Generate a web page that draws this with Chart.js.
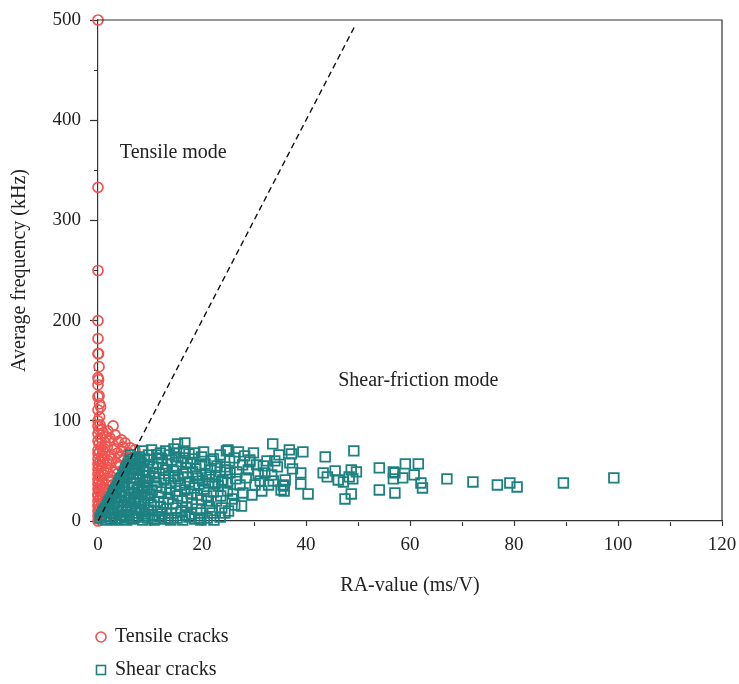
<!DOCTYPE html>
<html>
<head>
<meta charset="utf-8">
<script src="https://cdn.jsdelivr.net/npm/chart.js@4.4.0/dist/chart.umd.min.js"></script>
<style>
  html, body { margin: 0; padding: 0; background: #fff; }
</style>
</head>
<body>
<canvas id="raChart" width="739" height="684"></canvas>
<script>
// RA-value (ms/V) vs average frequency (kHz)
const tensileCracks = [
  [0, 500], [0, 333], [0, 250], [0, 200], [0, 182], [0.1, 167], [0, 167], [0.2, 154],
  [0, 143], [0.1, 141], [0, 136], [0.2, 125], [0, 124], [0.3, 117], [0.5, 114], [0, 111],
  [0.3, 104], [0, 100], [0.4, 96], [0, 95], [0.2, 91], [0, 87], [0.5, 83], [0, 80],
  [0.2, 77], [0.6, 74], [0, 71], [0.3, 69], [0, 67], [0.8, 65], [0, 62], [0.4, 60],
  [0, 57], [0.2, 55], [0, 52], [0.6, 50], [0, 47], [0.3, 45], [0, 42], [0.1, 40],
  [0, 37], [0.5, 35], [0, 32], [0.2, 30], [0, 27], [0, 25], [0.4, 22], [0, 20],
  [0.1, 17], [0, 15], [0.3, 12], [0, 10], [0.2, 7], [0, 5], [0.1, 2], [0, 0],
  [2.9, 95], [1.0, 88], [1.5, 84], [2.3, 80], [3.9, 79], [5.2, 78], [6.2, 73], [7.1, 71],
  [5.8, 68], [4.5, 70], [3.2, 72], [1.8, 74], [0.9, 70], [2.5, 66], [4.0, 64], [5.0, 62],
  [1.2, 62], [3.5, 58], [2.2, 57], [0.7, 55], [4.3, 55], [1.6, 52], [3.0, 50], [2.6, 44],
  [1.1, 46], [3.7, 47], [2.0, 40], [0.8, 38], [2.8, 36], [1.4, 33], [2.2, 28], [0.6, 27],
  [1.6, 22], [1.0, 18], [0.5, 14], [1.2, 12], [0.7, 8], [0.4, 4], [6.5, 66], [4.8, 74],
  [1.9, 90], [3.3, 86], [0.6, 92], [1.4, 78], [2.7, 62], [3.8, 68], [1.9, 48], [0.5, 44],
  [1.7, 36], [0.9, 31], [4.5, 81], [2.3, 83], [1.3, 68], [2.0, 60], [1.0, 25], [1.8, 30]
];

const shearCracks = [
  [0.4, 3], [0.7, 6], [1.0, 9], [1.2, 11], [1.5, 13], [1.8, 16], [2.0, 19], [2.3, 21],
  [2.6, 24], [2.9, 27], [3.1, 30], [3.4, 32], [3.7, 35], [4.0, 38], [4.2, 41], [4.5, 43],
  [4.8, 46], [5.1, 49], [5.3, 52], [5.6, 55], [5.9, 57], [6.2, 60], [6.7, 62], [7.3, 63],
  [8.0, 64], [1.3, 5], [2.0, 8], [2.6, 13], [3.2, 18], [3.6, 24], [4.1, 29], [4.6, 34],
  [5.0, 39], [5.5, 44], [6.0, 48], [6.5, 53], [7.0, 57], [7.6, 60],
  [1.5, 1], [2.5, 2], [3.5, 1], [4.6, 3], [5.5, 1], [6.6, 2], [7.7, 4], [8.6, 1],
  [9.6, 3], [10.8, 1], [11.8, 4], [12.9, 2], [14.0, 1], [15.2, 3], [16.3, 1], [17.5, 4],
  [18.6, 2], [19.8, 1], [21.0, 3], [22.3, 1],
  [3.0, 7], [4.0, 10], [4.8, 15], [5.6, 9], [6.3, 14], [7.1, 8], [8.0, 12], [8.9, 7],
  [9.7, 11], [5.8, 21], [6.9, 19], [7.8, 24], [8.8, 18], [9.6, 23], [6.4, 28], [7.5, 31],
  [8.5, 29], [9.4, 34], [7.0, 38], [8.1, 41], [9.1, 39], [9.8, 45], [7.7, 47], [8.7, 51],
  [9.5, 55], [8.3, 58], [9.9, 61], [6.0, 33], [6.8, 43], [10.2, 16], [10.0, 27], [9.2, 49],
  [10.5, 6], [11.4, 10], [12.3, 7], [13.2, 12], [14.1, 8], [15.0, 13], [16.0, 9], [17.0, 14],
  [18.0, 7], [19.0, 12], [19.8, 8], [10.8, 19], [11.7, 24], [12.6, 18], [13.5, 22], [14.4, 17],
  [15.3, 25], [16.2, 20], [17.1, 23], [18.1, 18], [19.1, 26], [19.9, 21], [10.4, 31], [11.3, 35],
  [12.2, 29], [13.1, 33], [14.0, 38], [14.9, 30], [15.8, 36], [16.7, 31], [17.6, 39], [18.5, 33],
  [19.4, 37], [10.9, 43], [11.8, 47], [12.7, 41], [13.6, 45], [14.5, 50], [15.4, 42], [16.3, 47],
  [17.2, 44], [18.2, 49], [19.2, 43], [10.6, 54], [11.5, 58], [12.4, 53], [13.3, 57], [14.2, 61],
  [15.1, 55], [16.0, 59], [16.9, 53], [17.8, 57], [18.8, 52], [19.6, 56], [11.6, 63], [12.2, 62],
  [13.7, 66], [15.1, 68], [16.4, 63], [17.2, 58], [18.3, 62], [15.3, 77], [16.7, 78], [13.0, 70],
  [14.6, 72], [17.5, 67], [19.9, 64], [8.6, 70], [11.3, 66], [6.2, 66],
  [2.2, 4], [3.3, 3], [4.4, 6], [5.2, 4], [6.0, 6], [6.9, 3], [7.4, 11], [8.4, 9],
  [9.2, 5], [3.8, 14], [4.5, 20], [5.2, 26], [5.4, 16], [6.1, 23], [7.2, 22], [8.2, 20],
  [9.0, 26], [6.9, 27], [7.9, 34], [8.9, 33], [6.6, 37], [7.4, 43], [8.6, 45], [9.5, 40],
  [7.2, 51], [8.0, 54], [8.9, 62], [9.7, 66], [10.3, 71], [12.0, 68], [10.7, 48], [11.1, 39],
  [12.0, 14], [13.8, 28], [14.8, 44], [16.8, 38], [17.9, 27], [18.9, 45], [13.0, 51], [14.9, 64],
  [16.5, 70], [18.6, 68], [11.0, 2], [13.5, 3], [16.8, 6], [19.5, 3],
  [20.4, 32], [21.3, 38], [22.2, 29], [23.1, 35], [24.0, 41], [20.8, 46], [21.7, 51], [22.6, 44],
  [23.5, 49], [24.4, 54], [20.6, 57], [21.8, 60], [22.2, 62], [23.5, 66], [24.7, 70], [25.3, 60],
  [24.5, 51], [23.8, 39], [24.9, 38], [25.4, 48], [26.7, 49], [28.5, 43], [28.9, 51], [29.2, 59],
  [29.9, 68], [30.5, 56], [27.3, 36], [26.0, 27], [29.6, 26], [26.3, 16], [27.6, 15], [24.4, 8],
  [23.8, 13], [21.5, 14], [22.8, 20], [25.8, 22], [27.9, 28], [20.9, 25], [22.9, 55], [25.0, 71],
  [29.2, 61], [20.3, 69], [21.4, 44], [22.5, 37], [20.1, 40], [21.2, 20], [23.6, 25], [24.9, 30],
  [26.5, 42], [27.8, 56], [26.2, 63], [27.0, 69], [28.2, 65], [23.5, 4], [25.1, 10], [22.0, 8],
  [31.2, 40], [32.1, 48], [33.4, 46], [33.7, 40], [33.6, 77], [35.6, 36], [36.0, 41], [30.8, 47],
  [32.5, 60], [34.5, 54], [31.5, 30], [34.8, 66], [35.2, 31], [30.2, 36], [31.8, 55], [32.8, 36],
  [34.0, 60],
  [36.8, 71], [37.2, 67], [39.4, 69], [36.9, 58], [37.4, 52], [39.0, 48], [35.8, 35], [35.8, 30],
  [39.0, 37], [40.4, 27], [43.7, 64], [43.3, 48], [44.1, 44], [45.6, 50], [46.2, 41], [47.2, 39],
  [47.5, 22], [48.7, 27], [48.3, 44], [49.0, 42], [48.7, 51], [49.7, 49], [49.2, 70], [54.1, 53],
  [54.1, 31], [56.8, 49], [56.8, 42], [57.1, 48], [57.1, 28], [58.6, 43], [59.1, 57], [60.8, 46],
  [61.6, 57], [62.1, 38], [62.4, 33], [67.1, 42], [72.1, 39], [76.8, 36], [79.2, 38], [80.6, 34],
  [89.5, 38], [99.2, 43]
];

// dividing line between the two modes
const dividerLine = [[0, 0], [49.5, 495]];

const xTickLabels = [0, 20, 40, 60, 80, 100, 120];
const yTickLabels = [0, 100, 200, 300, 400, 500];

const seriesNames = ["Tensile cracks", "Shear cracks"];
const regionLabels = [
  { text: "Tensile mode", x: 4.2, y: 368 },
  { text: "Shear-friction mode", x: 46.2, y: 140 }
];

const tensileColor = "#f0534f";
const shearColor = "#1e8181";
const serif = "'Liberation Serif', 'Times New Roman', serif";

function toXY(pairs) {
  return pairs.map((p) => ({ x: p[0], y: p[1] }));
}

// Frame, region labels and the legend under the plot
const extrasPlugin = {
  id: "extras",
  afterDraw(chart) {
    const ctx = chart.ctx;
    const area = chart.chartArea;
    const xs = chart.scales.x;
    const ys = chart.scales.y;
    ctx.save();

    // top and right frame
    ctx.strokeStyle = "#333";
    ctx.lineWidth = 1.2;
    ctx.beginPath();
    ctx.moveTo(area.left, area.top);
    ctx.lineTo(area.right, area.top);
    ctx.lineTo(area.right, area.bottom);
    ctx.stroke();

    ctx.fillStyle = "#222";
    ctx.font = "20px " + serif;
    ctx.textBaseline = "middle";
    ctx.textAlign = "left";
    regionLabels.forEach((r) => {
      ctx.fillText(r.text, xs.getPixelForValue(r.x), ys.getPixelForValue(r.y));
    });

    // legend
    const lx = area.left + 3;
    const ly = area.bottom + 116;
    ctx.lineWidth = 1.6;
    ctx.strokeStyle = tensileColor;
    ctx.beginPath();
    ctx.arc(lx, ly, 5, 0, Math.PI * 2);
    ctx.stroke();
    ctx.strokeStyle = shearColor;
    ctx.strokeRect(lx - 4.5, ly + 33 - 4.5, 9, 9);
    ctx.fillStyle = "#222";
    ctx.fillText(seriesNames[0], lx + 14, ly);
    ctx.fillText(seriesNames[1], lx + 14, ly + 33);
    ctx.restore();
  }
};

new Chart(document.getElementById("raChart"), {
  type: "scatter",
  data: {
    datasets: [
      {
        label: seriesNames[0],
        data: toXY(tensileCracks),
        pointStyle: "circle",
        pointRadius: 5,
        borderColor: tensileColor,
        backgroundColor: "rgba(0,0,0,0)",
        borderWidth: 1.7,
        clip: false,
        order: 2,
      },
      {
        label: seriesNames[1],
        data: toXY(shearCracks),
        pointStyle: "rect",
        pointRadius: 6.8,
        borderColor: shearColor,
        backgroundColor: "rgba(0,0,0,0)",
        borderWidth: 1.8,
        clip: false,
        order: 1,
      },
      {
        type: "line",
        label: "divider",
        data: toXY(dividerLine),
        borderColor: "#111",
        borderWidth: 1.4,
        borderDash: [6, 4],
        pointRadius: 0,
        fill: false,
        order: 0,
      },
    ],
  },
  options: {
    responsive: false,
    animation: false,
    layout: {
      padding: { top: 20, right: 17, bottom: 83, left: 0 },
    },
    plugins: {
      legend: { display: false },
      tooltip: { enabled: false },
    },
    scales: {
      x: {
        type: "linear",
        min: 0,
        max: 120,
        afterFit: (scale) => {
          scale.height = 80;
          scale.paddingLeft = 0;
          scale.paddingRight = 0;
        },
        border: { display: true, color: "#333", width: 1.2 },
        grid: {
          drawOnChartArea: false,
          tickLength: 5,
          tickColor: "#333",
          tickWidth: 1.2,
          tickBorderDash: (c) =>
            xTickLabels.includes(c.tick.value) ? [] : [0, 1, 4, 20],
        },
        ticks: {
          stepSize: 10,
          padding: 8,
          color: "#222",
          font: { family: serif, size: 19 },
          maxRotation: 0,
          callback: (v) => (xTickLabels.includes(v) ? v : ""),
        },
        title: {
          display: true,
          text: "RA-value (ms/V)",
          color: "#222",
          font: { family: serif, size: 20 },
          padding: { top: 0, bottom: 3 },
        },
      },
      y: {
        type: "linear",
        min: 0,
        max: 500,
        afterFit: (scale) => {
          scale.width = 98;
          scale.paddingTop = 0;
          scale.paddingBottom = 0;
        },
        border: { display: true, color: "#333", width: 1.2 },
        grid: {
          drawOnChartArea: false,
          tickLength: 8,
          tickColor: "#333",
          tickWidth: 1.2,
          tickBorderDash: (c) =>
            yTickLabels.includes(c.tick.value) ? [] : [0, 4, 4, 20],
        },
        ticks: {
          stepSize: 50,
          padding: 9,
          color: "#222",
          font: { family: serif, size: 19 },
          callback: (v) => (yTickLabels.includes(v) ? v : ""),
        },
        title: {
          display: true,
          text: "Average frequency (kHz)",
          color: "#222",
          font: { family: serif, size: 20 },
          padding: { top: 8, bottom: 0 },
        },
      },
    },
  },
  plugins: [extrasPlugin],
});
</script>
</body>
</html>
